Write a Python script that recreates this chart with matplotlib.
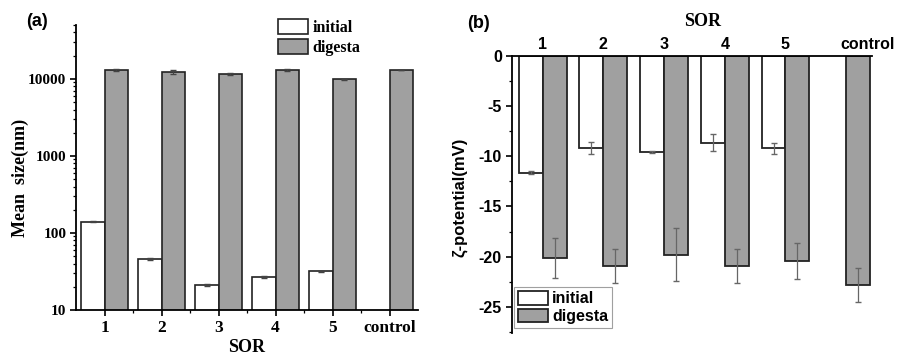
import matplotlib
matplotlib.use('Agg')
import matplotlib.pyplot as plt
import matplotlib.transforms as mtransforms
from matplotlib.patches import Patch
from matplotlib.ticker import FixedLocator, NullFormatter, LogLocator
import numpy as np

# data
sor = ['1', '2', '3', '4', '5', 'control']
size_initial = [140, 46, 21, 27, 32]
size_initial_err = [3, 1, 0.6, 0.8, 0.5]
size_digesta = [13000, 12200, 11600, 13000, 9900, 13000]
size_digesta_err = [250, 700, 450, 250, 150, 0]

zeta_initial = [-11.65, -9.2, -9.63, -8.65, -9.23]
zeta_initial_err = [0.15, 0.57, 0.1, 0.85, 0.57]
zeta_digesta = [-20.15, -20.9, -19.8, -20.9, -20.4, -22.85]
zeta_digesta_err = [2.0, 1.7, 2.65, 1.7, 1.8, 1.7]

grey = '#a0a0a0'
serif = 'Liberation Serif'
sans = 'Liberation Sans'

W, H = 898, 362
fig = plt.figure(figsize=(W / 100, H / 100), dpi=100)

def box(l, t, r, b):
    return [l / W, 1 - b / H, (r - l) / W, (b - t) / H]

# ---- panel (a): mean size
ax1 = fig.add_axes(box(76, 25, 418, 310))
x = np.arange(1, len(sor) + 1)
w = 0.42
ax1.bar(x[:5] - w / 2, size_initial, w, color='white', edgecolor='#222222', lw=1.2)
ax1.bar(x + w / 2, size_digesta, w, color=grey, edgecolor='#222222', lw=1.2)
ax1.errorbar(x[:5] - w / 2, size_initial, yerr=size_initial_err, fmt='none',
             ecolor='#444444', elinewidth=0.8, capsize=2)
ax1.errorbar(x + w / 2, size_digesta, yerr=size_digesta_err, fmt='none',
             ecolor='#444444', elinewidth=0.8, capsize=2)
ax1.set_yscale('log')
ax1.set_ylim(10, 50000)
ax1.set_xlim(0.5, 6.5)
ax1.set_yticks([10, 100, 1000, 10000])
ax1.set_yticklabels(['10', '100', '1000', '10000'])
ax1.yaxis.set_minor_locator(LogLocator(base=10, subs=np.arange(2, 10)))
ax1.yaxis.set_minor_formatter(NullFormatter())
ax1.set_xticks(x)
ax1.set_xticklabels(sor)
ax1.xaxis.set_minor_locator(FixedLocator(x[:-1] + 0.5))
for s in ['top', 'right']:
    ax1.spines[s].set_visible(False)
for s in ['left', 'bottom']:
    ax1.spines[s].set_linewidth(1.3)
ax1.tick_params(axis='both', which='major', direction='out', length=4, width=1.2, pad=3)
ax1.tick_params(axis='both', which='minor', direction='out', length=2, width=0.9)
for lab in ax1.get_yticklabels():
    lab.set_fontfamily(serif)
    lab.set_fontweight('bold')
    lab.set_fontsize(11)
for lab in ax1.get_xticklabels():
    lab.set_fontfamily(serif)
    lab.set_fontweight('bold')
    lab.set_fontsize(12.5)
fig.text(20 / W, 1 - 178 / H, 'Mean  size(nm)', rotation=90, ha='center', va='center',
         family=serif, weight='bold', fontsize=13)
fig.text(247 / W, 1 - 347 / H, 'SOR', ha='center', va='center',
         family=serif, weight='bold', fontsize=13)
fig.text(37 / W, 1 - 22 / H, '(a)', ha='center', va='center',
         family=sans, weight='bold', fontsize=13)
h1 = [Patch(facecolor='white', edgecolor='#222222', lw=1.2),
      Patch(facecolor=grey, edgecolor='#222222', lw=1.2)]
ax1.legend(h1, ['initial', 'digesta'], loc='upper left', bbox_to_anchor=(0.59, 1.02),
           frameon=False, borderpad=0, borderaxespad=0, handlelength=1.9,
           handleheight=1.05, handletextpad=0.25, labelspacing=0.2,
           prop={'family': serif, 'weight': 'bold', 'size': 11.5})

# ---- panel (b): zeta potential
ax2 = fig.add_axes(box(511.7, 55.7, 871.7, 333))
w2 = 0.395
ax2.bar(x[:5] - w2 / 2, zeta_initial, w2, color='white', edgecolor='#222222', lw=1.3)
ax2.bar(x + w2 / 2, zeta_digesta, w2, color=grey, edgecolor='#222222', lw=1.3)
ax2.errorbar(x[:5] - w2 / 2, zeta_initial, yerr=zeta_initial_err, fmt='none',
             ecolor='#666666', elinewidth=0.9, capsize=2)
ax2.errorbar(x + w2 / 2, zeta_digesta, yerr=zeta_digesta_err, fmt='none',
             ecolor='#666666', elinewidth=0.9, capsize=2)
ax2.set_ylim(-27.6, 0)
ax2.set_xlim(0.49, 6.42)
ax2.set_yticks([0, -5, -10, -15, -20, -25])
ax2.set_yticklabels(['0', '-5', '-10', '-15', '-20', '-25'])
ax2.yaxis.set_minor_locator(FixedLocator([-2.5, -7.5, -12.5, -17.5, -22.5, -27.5]))
ax2.xaxis.tick_top()
ax2.set_xticks(x)
ax2.set_xticklabels(sor)
ax2.tick_params(axis='x', length=0, pad=3)
ax2.tick_params(axis='y', which='major', direction='out', length=4, width=1.2, pad=3)
ax2.tick_params(axis='y', which='minor', direction='out', length=2.5, width=0.9)
for s in ['bottom', 'right']:
    ax2.spines[s].set_visible(False)
for s in ['left', 'top']:
    ax2.spines[s].set_linewidth(1.3)
for lab in ax2.get_xticklabels() + ax2.get_yticklabels():
    lab.set_fontfamily(sans)
    lab.set_fontweight('bold')
    lab.set_fontsize(11.5)
# nudge the "control" label left so it stays inside the figure
ctrl = ax2.get_xticklabels()[-1]
ctrl.set_horizontalalignment('left')
ctrl.set_transform(ctrl.get_transform() +
                   mtransforms.ScaledTranslation(-6 / 100, 0, fig.dpi_scale_trans))
fig.text(460 / W, 1 - 197 / H, 'ζ-potential(mV)', rotation=90, ha='center', va='center',
         family=sans, weight='bold', fontsize=12)
fig.text(703 / W, 1 - 21 / H, 'SOR', ha='center', va='center',
         family=serif, weight='bold', fontsize=13)
fig.text(479 / W, 1 - 23 / H, '(b)', ha='center', va='center',
         family=sans, weight='bold', fontsize=13)
h2 = [Patch(facecolor='white', edgecolor='#222222', lw=1.3),
      Patch(facecolor=grey, edgecolor='#222222', lw=1.3)]
leg = ax2.legend(h2, ['initial', 'digesta'], loc='lower left', bbox_to_anchor=(0.006, 0.018),
                 frameon=True, fancybox=False, borderpad=0.25, borderaxespad=0,
                 handlelength=1.9, handleheight=0.95, handletextpad=0.25, labelspacing=0.15,
                 prop={'family': sans, 'weight': 'bold', 'size': 11.5})
leg.get_frame().set_edgecolor('#888888')
leg.get_frame().set_linewidth(0.8)

fig.savefig('out.png', dpi=100)
